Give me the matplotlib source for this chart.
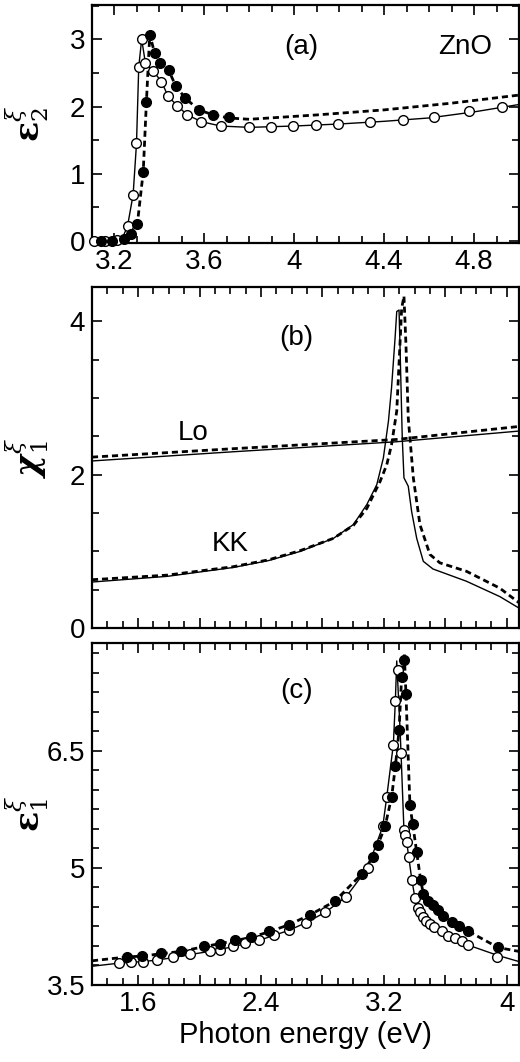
import matplotlib
matplotlib.use('Agg')
import matplotlib.pyplot as plt
from matplotlib.ticker import MultipleLocator, FixedLocator, FuncFormatter

plt.rcParams['font.family'] = ['Liberation Sans', 'DejaVu Sans']
plt.rcParams['mathtext.fontset'] = 'dejavuserif'

# (a) eps2 : open = data set 1, filled = data set 2
open_x_a = [3.11, 3.16, 3.21, 3.258, 3.283, 3.298, 3.308, 3.321, 3.338, 3.372, 3.409, 3.439, 3.48, 3.524,
            3.587, 3.672, 3.797, 3.895, 3.996, 4.095, 4.196, 4.335, 4.486, 4.624, 4.776, 4.924]
open_y_a = [0.0, 0.0, 0.02, 0.22, 0.69, 1.45, 2.59, 3.0, 2.64, 2.53, 2.37, 2.15, 2.01, 1.875,
            1.775, 1.71, 1.69, 1.70, 1.71, 1.72, 1.74, 1.77, 1.80, 1.84, 1.94, 1.99]
filled_x_a = [3.142, 3.19, 3.243, 3.272, 3.302, 3.328, 3.342, 3.357, 3.379, 3.401, 3.441, 3.472,
              3.516, 3.576, 3.639, 3.708]
filled_y_a = [0.0, 0.0, 0.03, 0.11, 0.26, 1.03, 2.06, 3.07, 2.79, 2.65, 2.54, 2.31,
              2.12, 1.95, 1.875, 1.84]
solid_x_a = [3.10, 3.16, 3.21, 3.24, 3.258, 3.283, 3.298, 3.308, 3.321, 3.338, 3.372, 3.409, 3.439,
             3.48, 3.524, 3.587, 3.672, 3.80, 4.0, 4.2, 4.4, 4.6, 4.8, 5.0]
solid_y_a = [0.0, 0.0, 0.02, 0.08, 0.22, 0.69, 1.45, 2.59, 3.0, 2.64, 2.53, 2.37, 2.15,
             2.01, 1.875, 1.775, 1.71, 1.69, 1.71, 1.74, 1.78, 1.83, 1.92, 2.03]
dash_x_a = [3.10, 3.20, 3.243, 3.272, 3.302, 3.328, 3.342, 3.357, 3.379, 3.401, 3.441, 3.472, 3.516,
            3.576, 3.639, 3.708, 3.80, 4.1, 4.4, 4.7, 5.0]
dash_y_a = [0.0, 0.0, 0.03, 0.11, 0.26, 1.03, 2.06, 3.07, 2.79, 2.65, 2.54, 2.31, 2.12,
            1.95, 1.875, 1.83, 1.81, 1.875, 1.95, 2.05, 2.17]

# (b) chi1 : Lo and KK curves
lo_x = [1.30, 2.22, 3.28, 4.08]
lo_solid_y = [2.18, 2.30, 2.43, 2.57]
lo_dash_y = [2.23, 2.34, 2.46, 2.63]
kk_x_s = [1.30, 1.79, 2.22, 2.45, 2.656, 2.872, 3.002, 3.089, 3.154, 3.197, 3.23, 3.25, 3.273, 3.284,
          3.299, 3.305, 3.32, 3.331, 3.359, 3.381, 3.414, 3.457, 3.52, 3.738, 3.955, 4.08]
kk_y_s = [0.60, 0.674, 0.79, 0.88, 1.0, 1.17, 1.35, 1.61, 1.87, 2.22, 2.70, 3.13, 3.78, 4.13,
          4.15, 3.70, 2.48, 1.96, 1.85, 1.52, 1.17, 0.87, 0.77, 0.61, 0.41, 0.26]
kk_x_d = [1.30, 1.79, 2.22, 2.45, 2.656, 2.872, 3.002, 3.089, 3.175, 3.219, 3.25, 3.284, 3.305, 3.316,
          3.331, 3.344, 3.359, 3.392, 3.435, 3.5, 3.565, 3.738, 3.955, 4.08]
kk_y_d = [0.63, 0.69, 0.80, 0.89, 1.01, 1.17, 1.34, 1.56, 1.91, 2.13, 2.39, 2.83, 3.70, 4.17,
          4.33, 3.70, 2.74, 1.96, 1.35, 0.96, 0.85, 0.74, 0.52, 0.33]

# (c) eps1
open_x_c = [1.476, 1.552, 1.634, 1.725, 1.827, 1.937, 2.067, 2.136, 2.216, 2.299, 2.385, 2.483, 2.582,
            2.695, 2.818, 2.955, 3.095, 3.193, 3.219, 3.262, 3.275, 3.29, 3.312, 3.331, 3.338, 3.349,
            3.362, 3.383, 3.403, 3.42, 3.435, 3.453, 3.474, 3.5, 3.528, 3.576, 3.619, 3.662, 3.712,
            3.751, 3.94]
open_y_c = [3.78, 3.80, 3.80, 3.82, 3.86, 3.90, 3.93, 3.95, 4.00, 4.04, 4.07, 4.14, 4.20,
            4.30, 4.43, 4.63, 5.00, 5.53, 5.91, 6.58, 7.14, 7.53, 6.47, 5.48, 5.42, 5.33,
            5.14, 4.84, 4.61, 4.49, 4.43, 4.37, 4.32, 4.28, 4.24, 4.19, 4.13, 4.10, 4.06,
            4.01, 3.86]
filled_x_c = [1.531, 1.628, 1.747, 1.877, 2.028, 2.132, 2.234, 2.336, 2.45, 2.58, 2.721, 2.879, 3.056,
              3.128, 3.16, 3.208, 3.251, 3.275, 3.299, 3.316, 3.333, 3.344, 3.37, 3.388, 3.414, 3.44,
              3.457, 3.485, 3.517, 3.554, 3.586, 3.641, 3.69, 3.749, 3.944]
filled_y_c = [3.86, 3.87, 3.91, 3.94, 4.00, 4.03, 4.07, 4.11, 4.19, 4.27, 4.40, 4.57, 4.92,
              5.14, 5.29, 5.53, 5.91, 6.30, 6.76, 7.45, 7.66, 7.23, 5.80, 5.56, 5.20, 4.84,
              4.67, 4.58, 4.53, 4.46, 4.39, 4.31, 4.26, 4.19, 3.99]
solid_x_c = [1.30, 1.476, 1.552, 1.634, 1.725, 1.827, 1.937, 2.067, 2.216, 2.385, 2.582, 2.695, 2.818,
             2.955, 3.095, 3.193, 3.219, 3.262, 3.275, 3.284, 3.295, 3.305, 3.312, 3.331, 3.349, 3.362,
             3.383, 3.403, 3.435, 3.474, 3.528, 3.619, 3.712, 3.751, 3.94, 4.08]
solid_y_c = [3.74, 3.78, 3.79, 3.80, 3.82, 3.85, 3.89, 3.93, 3.99, 4.07, 4.20, 4.30, 4.43,
             4.63, 5.00, 5.53, 5.91, 6.58, 7.14, 7.65, 7.2, 6.8, 6.47, 5.48, 5.33, 5.14,
             4.84, 4.61, 4.43, 4.32, 4.24, 4.13, 4.06, 4.01, 3.88, 3.80]
dash_x_c = [1.30, 1.531, 1.628, 1.747, 1.877, 2.028, 2.132, 2.234, 2.336, 2.45, 2.58, 2.721, 2.879,
            3.056, 3.128, 3.16, 3.208, 3.251, 3.275, 3.299, 3.316, 3.333, 3.344, 3.37, 3.388, 3.414,
            3.44, 3.457, 3.485, 3.517, 3.554, 3.586, 3.641, 3.69, 3.749, 3.944, 4.08]
dash_y_c = [3.81, 3.86, 3.87, 3.90, 3.93, 3.99, 4.03, 4.07, 4.11, 4.18, 4.27, 4.40, 4.57,
            4.92, 5.14, 5.29, 5.53, 5.91, 6.30, 6.76, 7.45, 7.75, 7.23, 5.80, 5.56, 5.20,
            4.84, 4.67, 4.58, 4.53, 4.46, 4.39, 4.31, 4.26, 4.19, 3.98, 3.93]
ticks_c = [3.5, 5, 6.5]

fig = plt.figure(figsize=(5.2, 10.62), dpi=100)
left, width = 92 / 520, 427 / 520
ax_a = fig.add_axes([left, 1 - 243 / 1062, width, 238 / 1062])
ax_b = fig.add_axes([left, 1 - 628 / 1062, width, 341 / 1062])
ax_c = fig.add_axes([left, 1 - 985 / 1062, width, 342 / 1062])

dash_style = dict(color='black', lw=2.0, linestyle=(0, (2.2, 1.4)))
solid_style = dict(color='black', lw=1.0)
open_style = dict(marker='o', ms=7, mfc='white', mec='black', mew=1.0, ls='none', zorder=4, clip_on=False)
fill_style = dict(marker='o', ms=7, mfc='black', mec='black', mew=1.0, ls='none', zorder=5, clip_on=False)

# panel a
ax_a.plot(solid_x_a, solid_y_a, **solid_style)
ax_a.plot(dash_x_a, dash_y_a, **dash_style)
ax_a.plot(open_x_a, open_y_a, **open_style)
ax_a.plot(filled_x_a, filled_y_a, **fill_style)
ax_a.set_xlim(3.1, 5.0)
ax_a.set_ylim(-0.03, 3.51)
ax_a.xaxis.set_major_locator(MultipleLocator(0.4))
ax_a.xaxis.set_minor_locator(MultipleLocator(0.1))
ax_a.yaxis.set_major_locator(MultipleLocator(1))
ax_a.yaxis.set_minor_locator(MultipleLocator(0.5))
ax_a.text(4.03, 2.89, '(a)', fontsize=20, ha='center', va='center')
ax_a.text(4.76, 2.88, 'ZnO', fontsize=20, ha='center', va='center')
ax_a.set_ylabel(r'$\boldsymbol{\varepsilon}_2^{\xi}$', fontsize=24)

# panel b
ax_b.plot(lo_x, lo_solid_y, **solid_style)
ax_b.plot(lo_x, lo_dash_y, **dash_style)
ax_b.plot(kk_x_s, kk_y_s, **solid_style)
ax_b.plot(kk_x_d, kk_y_d, **dash_style)
ax_b.set_ylim(0, 4.45)
ax_b.yaxis.set_major_locator(MultipleLocator(2))
ax_b.yaxis.set_minor_locator(MultipleLocator(0.5))
ax_b.text(2.63, 3.78, '(b)', fontsize=20, ha='center', va='center')
ax_b.text(1.96, 2.54, 'Lo', fontsize=20, ha='center', va='center')
ax_b.text(2.20, 1.09, 'KK', fontsize=20, ha='center', va='center')
ax_b.set_ylabel(r'$\boldsymbol{\chi}_1^{\xi}$', fontsize=24)

# panel c
ax_c.plot(solid_x_c, solid_y_c, **solid_style)
ax_c.plot(dash_x_c, dash_y_c, **dash_style)
ax_c.plot(open_x_c, open_y_c, **open_style)
ax_c.plot(filled_x_c, filled_y_c, **fill_style)
ax_c.set_ylim(3.5, 7.88)
ax_c.yaxis.set_major_locator(FixedLocator(ticks_c))
ax_c.yaxis.set_minor_locator(MultipleLocator(0.25))
ax_c.text(2.63, 7.26, '(c)', fontsize=20, ha='center', va='center')
ax_c.set_ylabel(r'$\boldsymbol{\varepsilon}_1^{\xi}$', fontsize=24)
ax_c.set_xlabel('Photon energy (eV)', fontsize=21, labelpad=3)

fmt = FuncFormatter(lambda v, p: f'{v:g}')
fmt_08 = FuncFormatter(lambda v, p: f'{v:g}' if abs(v / 0.8 - round(v / 0.8)) < 1e-6 else '')
for ax in (ax_b, ax_c):
    ax.set_xlim(1.3, 4.08)
    ax.xaxis.set_major_locator(MultipleLocator(0.4))
    ax.xaxis.set_minor_locator(MultipleLocator(0.1))
    ax.xaxis.set_major_formatter(fmt_08)
ax_b.tick_params(axis='x', labelbottom=False)

for ax in (ax_a, ax_b, ax_c):
    ax.yaxis.set_major_formatter(fmt)
    if ax is ax_a:
        ax.xaxis.set_major_formatter(fmt)
    ax.tick_params(which='both', direction='in', top=True, right=True, labelsize=20, width=1.2)
    ax.tick_params(which='major', length=7)
    ax.tick_params(which='minor', length=5)
    ax.tick_params(axis='x', pad=4)
    ax.tick_params(axis='y', pad=5)
    for s in ax.spines.values():
        s.set_linewidth(1.6)
    ax.yaxis.set_label_coords(-0.095, 0.5)

fig.savefig('out.png', dpi=100)
